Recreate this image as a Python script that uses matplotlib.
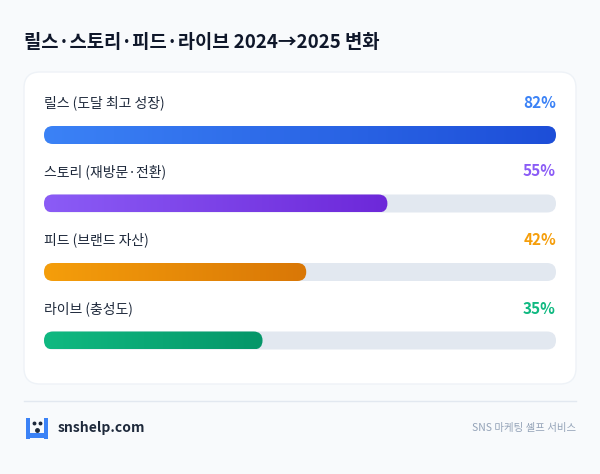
import numpy as np
import matplotlib
matplotlib.use("Agg")
import matplotlib.pyplot as plt
from matplotlib.patches import FancyBboxPatch, Rectangle
from matplotlib.colors import LinearSegmentedColormap

plt.rcParams['font.family'] = ['Noto Sans CJK KR', 'DejaVu Sans']

labels = ['릴스 (도달 최고 성장)', '스토리 (재방문·전환)', '피드 (브랜드 자산)', '라이브 (충성도)']
values = [82, 55, 42, 35]
start_colors = ['#3b82f6', '#8b5cf6', '#f59e0b', '#10b981']
end_colors = ['#1d4ed8', '#6d28d9', '#d97706', '#059669']

W, H = 600, 474
fig = plt.figure(figsize=(6, 4.74), dpi=100)
fig.patch.set_facecolor('#f8fafc')
ax = fig.add_axes([0, 0, 1, 1])
ax.set_xlim(0, W)
ax.set_ylim(H, 0)
ax.axis('off')

ax.text(24, 42, '릴스·스토리·피드·라이브 2024→2025 변화', fontsize=13.5,
        fontweight='bold', color='#0f172a', va='center')

# card
card = FancyBboxPatch((24, 72), 552, 312, boxstyle='round,pad=0,rounding_size=16',
                      facecolor='white', edgecolor='#eef2f7', linewidth=1, zorder=1)
ax.add_patch(card)

x0, full_w, bh = 44, 512, 18
vmax = max(values)
for i, (lab, v) in enumerate(zip(labels, values)):
    ly = 103 + i * 68.5
    by = ly + 23
    ax.text(x0, ly, lab, fontsize=10, color='#1e293b', va='center', zorder=3)
    ax.text(x0 + full_w, ly, f'{v}%', fontsize=11, fontweight='bold',
            color=start_colors[i], ha='right', va='center', zorder=3)
    track = FancyBboxPatch((x0, by), full_w, bh, boxstyle=f'round,pad=0,rounding_size={bh/2}',
                           facecolor='#e2e8f0', edgecolor='none', zorder=2)
    ax.add_patch(track)
    bw = full_w * v / vmax
    clip = FancyBboxPatch((x0, by), bw, bh, boxstyle=f'round,pad=0,rounding_size={bh/2}',
                          facecolor='none', edgecolor='none', zorder=3)
    ax.add_patch(clip)
    cmap = LinearSegmentedColormap.from_list('g', [start_colors[i], end_colors[i]])
    grad = np.linspace(0, 1, 256).reshape(1, -1)
    im = ax.imshow(grad, cmap=cmap, extent=(x0, x0 + bw, by + bh, by), aspect='auto', zorder=3)
    im.set_clip_path(clip)

ax.set_xlim(0, W)
ax.set_ylim(H, 0)

# footer
ax.plot([24, 576], [401, 401], color='#e2e8f0', lw=1)
ax.add_patch(Rectangle((26, 418), 4, 21, facecolor='#3b82f6', zorder=3))
ax.add_patch(Rectangle((44, 418), 4, 21, facecolor='#3b82f6', zorder=3))
ax.add_patch(Rectangle((26, 433), 22, 5, facecolor='#3b82f6', zorder=3))
ax.plot([34, 40], [423, 423], 'o', color='#1e293b', ms=1.8)
ax.plot([37], [430], 'o', color='#1e293b', ms=2.5)
ax.text(58, 428, 'snshelp.com', fontsize=10, fontweight='bold', color='#1e293b', va='center')
ax.text(576, 428, 'SNS 마케팅 셀프 서비스', fontsize=7.5, color='#94a3b8', ha='right', va='center')

fig.savefig('out.png', dpi=100, facecolor=fig.get_facecolor())
